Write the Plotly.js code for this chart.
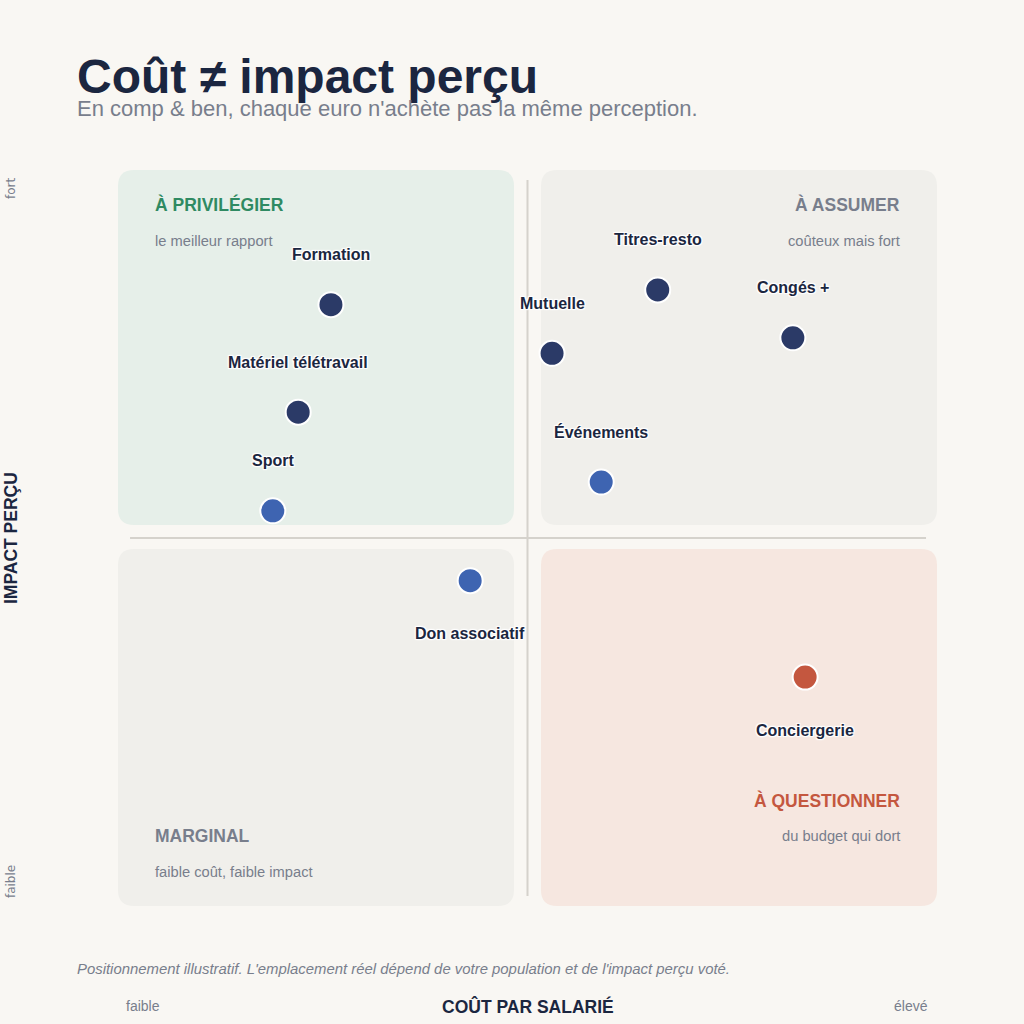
<!DOCTYPE html>
<html>
<head>
<meta charset="utf-8">
<script src="https://cdn.plot.ly/plotly-3.0.1.min.js"></script>
<style>
  html, body { margin: 0; padding: 0; background: #f9f7f3; }
  #chart { width: 1024px; height: 1024px; }
</style>
</head>
<body>
<div id="chart"></div>
<script>
// ---- data ----
const items   = ["Formation", "Matériel télétravail", "Sport", "Mutuelle", "Titres-resto", "Congés +", "Événements", "Don associatif", "Conciergerie"];
const cost    = [26.0, 22.0, 18.9, 53.0, 65.9, 82.4, 59.0, 43.0, 83.9];
const impact  = [81.7, 67.1, 53.7, 75.1, 83.7, 77.2, 57.6, 44.2, 31.1];
const tier    = ["fort", "fort", "moyen", "fort", "fort", "fort", "moyen", "moyen", "risque"];
const labelSide = ["top", "top", "top", "top", "top", "top", "top", "bottom", "bottom"];

const quadrantTitles = ["À PRIVILÉGIER", "À ASSUMER", "MARGINAL", "À QUESTIONNER"];
const quadrantNotes  = ["le meilleur rapport", "coûteux mais fort", "faible coût, faible impact", "du budget qui dort"];

const titleText    = "Coût ≠ impact perçu";
const subtitleText = "En comp & ben, chaque euro n'achète pas la même perception.";
const footnoteText = "Positionnement illustratif. L'emplacement réel dépend de votre population et de l'impact perçu voté.";
const xAxisTitle = "COÛT PAR SALARIÉ";
const yAxisTitle = "IMPACT PERÇU";
const xTickLabels = ["faible", "élevé"];
const yTickLabels = ["faible", "fort"];

// ---- styles ----
const FONT = "Liberation Sans, Arial, sans-serif";
const DARK = "#1b2640";
const GREY = "#787e8c";
const tierColor = { fort: "#2b3a67", moyen: "#3e64b1", risque: "#c4573f" };

function roundRect(x0, y0, x1, y1, rx, ry) {
  return `M ${x0+rx},${y0} L ${x1-rx},${y0} Q ${x1},${y0} ${x1},${y0+ry} ` +
         `L ${x1},${y1-ry} Q ${x1},${y1} ${x1-rx},${y1} L ${x0+rx},${y1} ` +
         `Q ${x0},${y1} ${x0},${y1-ry} L ${x0},${y0+ry} Q ${x0},${y0} ${x0+rx},${y0} Z`;
}
const rx = 16/819, ry = 16/736;
const gx0 = 0.4835, gx1 = 0.5165, gy0 = 0.4851, gy1 = 0.5177;

const shapes = [
  { type: "path", xref: "paper", yref: "paper", path: roundRect(0, gy1, gx0, 1, rx, ry), fillcolor: "#e6efe9", line: { width: 0 }, layer: "below" },
  { type: "path", xref: "paper", yref: "paper", path: roundRect(gx1, gy1, 1, 1, rx, ry), fillcolor: "#f0efeb", line: { width: 0 }, layer: "below" },
  { type: "path", xref: "paper", yref: "paper", path: roundRect(0, 0, gx0, gy0, rx, ry), fillcolor: "#f0efeb", line: { width: 0 }, layer: "below" },
  { type: "path", xref: "paper", yref: "paper", path: roundRect(gx1, 0, 1, gy0, rx, ry), fillcolor: "#f6e7e0", line: { width: 0 }, layer: "below" },
  { type: "line", xref: "paper", yref: "paper", x0: 0.5, x1: 0.5, y0: 0.0136, y1: 0.9864, line: { color: "#d5d2cc", width: 2 }, layer: "below" },
  { type: "line", xref: "paper", yref: "paper", x0: 0.0147, x1: 0.9866, y0: 0.5, y1: 0.5, line: { color: "#d5d2cc", width: 2 }, layer: "below" }
];

const halo = "1px 1px 1px #fff, -1px -1px 1px #fff, 1px -1px 1px #fff, -1px 1px 1px #fff, 0 0 3px #fff";
const px = 1/819;

const annotations = [];
// point labels
items.forEach((name, i) => {
  annotations.push({
    x: cost[i], y: impact[i], xref: "x", yref: "y", text: name, showarrow: false,
    xanchor: "center", yanchor: "middle", yshift: labelSide[i] === "top" ? 50 : -53,
    font: { family: FONT, size: 16, color: DARK, weight: 700, shadow: halo }
  });
});
// quadrant texts
const qPos = [
  { x: 0.0452 - 2*px, anchor: "left",  yt: 0.9538, yn: 0.9035, color: "#2f8a62" },
  { x: 0.9548 + 2*px, anchor: "right", yt: 0.9538, yn: 0.9035, color: GREY },
  { x: 0.0452 - 2*px, anchor: "left",  yt: 0.0951, yn: 0.0462, color: GREY },
  { x: 0.9548 + 2*px, anchor: "right", yt: 0.1427, yn: 0.0951, color: "#c4573f" }
];
quadrantTitles.forEach((t, i) => {
  const p = qPos[i];
  annotations.push({ x: p.x, y: p.yt, xref: "paper", yref: "paper", text: t, showarrow: false,
    xanchor: p.anchor, yanchor: "middle", font: { family: FONT, size: 17.5, color: p.color, weight: 700 } });
  annotations.push({ x: p.x, y: p.yn, xref: "paper", yref: "paper", text: quadrantNotes[i], showarrow: false,
    xanchor: p.anchor, yanchor: "middle", font: { family: FONT, size: 14.7, color: GREY } });
});
// titles & axis texts
annotations.push(
  { x: -0.0501 - 2*px, y: 1.1277, xref: "paper", yref: "paper", text: "<b>" + titleText + "</b>", showarrow: false,
    xanchor: "left", yanchor: "middle", font: { family: FONT, size: 48, color: DARK } },
  { x: -0.0501 - 2*px, y: 1.0829, xref: "paper", yref: "paper", text: subtitleText, showarrow: false,
    xanchor: "left", yanchor: "middle", font: { family: FONT, size: 22, color: GREY } },
  { x: -0.0501 - 2*px, y: -0.0856, xref: "paper", yref: "paper", text: "<i>" + footnoteText + "</i>", showarrow: false,
    xanchor: "left", yanchor: "middle", font: { family: FONT, size: 14.9, color: GREY } },
  { x: 0.0305, y: -0.1359, xref: "paper", yref: "paper", text: xTickLabels[0], showarrow: false,
    xanchor: "center", yanchor: "middle", font: { family: FONT, size: 14, color: GREY } },
  { x: 0.9683, y: -0.1359, xref: "paper", yref: "paper", text: xTickLabels[1], showarrow: false,
    xanchor: "center", yanchor: "middle", font: { family: FONT, size: 14, color: GREY } },
  { x: 0.5, y: -0.1372, xref: "paper", yref: "paper", text: "<b>" + xAxisTitle + "</b>", showarrow: false,
    xanchor: "center", yanchor: "middle", font: { family: FONT, size: 17.5, color: DARK } },
  { x: -0.1306, y: 0.5, xref: "paper", yref: "paper", text: "<b>" + yAxisTitle + "</b>", showarrow: false,
    textangle: -90, xanchor: "center", yanchor: "middle", font: { family: FONT, size: 17.5, color: DARK } },
  { x: -0.1306, y: 0.9755, xref: "paper", yref: "paper", text: yTickLabels[1], showarrow: false,
    textangle: -90, xanchor: "center", yanchor: "middle", font: { family: "DejaVu Sans, sans-serif", size: 12, color: GREY } },
  { x: -0.1306, y: 0.0326, xref: "paper", yref: "paper", text: yTickLabels[0], showarrow: false,
    textangle: -90, xanchor: "center", yanchor: "middle", font: { family: "DejaVu Sans, sans-serif", size: 12, color: GREY } }
);

const trace = {
  type: "scatter", mode: "markers",
  x: cost, y: impact, text: items,
  marker: { size: 25, color: tier.map(t => tierColor[t]), line: { color: "#ffffff", width: 2 } },
  hoverinfo: "text", cliponaxis: false
};

const layout = {
  width: 1024, height: 1024,
  margin: { l: 118, r: 87, t: 170, b: 118 },
  paper_bgcolor: "#f9f7f3", plot_bgcolor: "rgba(0,0,0,0)",
  xaxis: { range: [0, 100], visible: false, fixedrange: true },
  yaxis: { range: [0, 100], visible: false, fixedrange: true },
  showlegend: false, shapes: shapes, annotations: annotations,
  font: { family: FONT }
};

Plotly.newPlot("chart", [trace], layout, { displayModeBar: false, staticPlot: true });
</script>
</body>
</html>
